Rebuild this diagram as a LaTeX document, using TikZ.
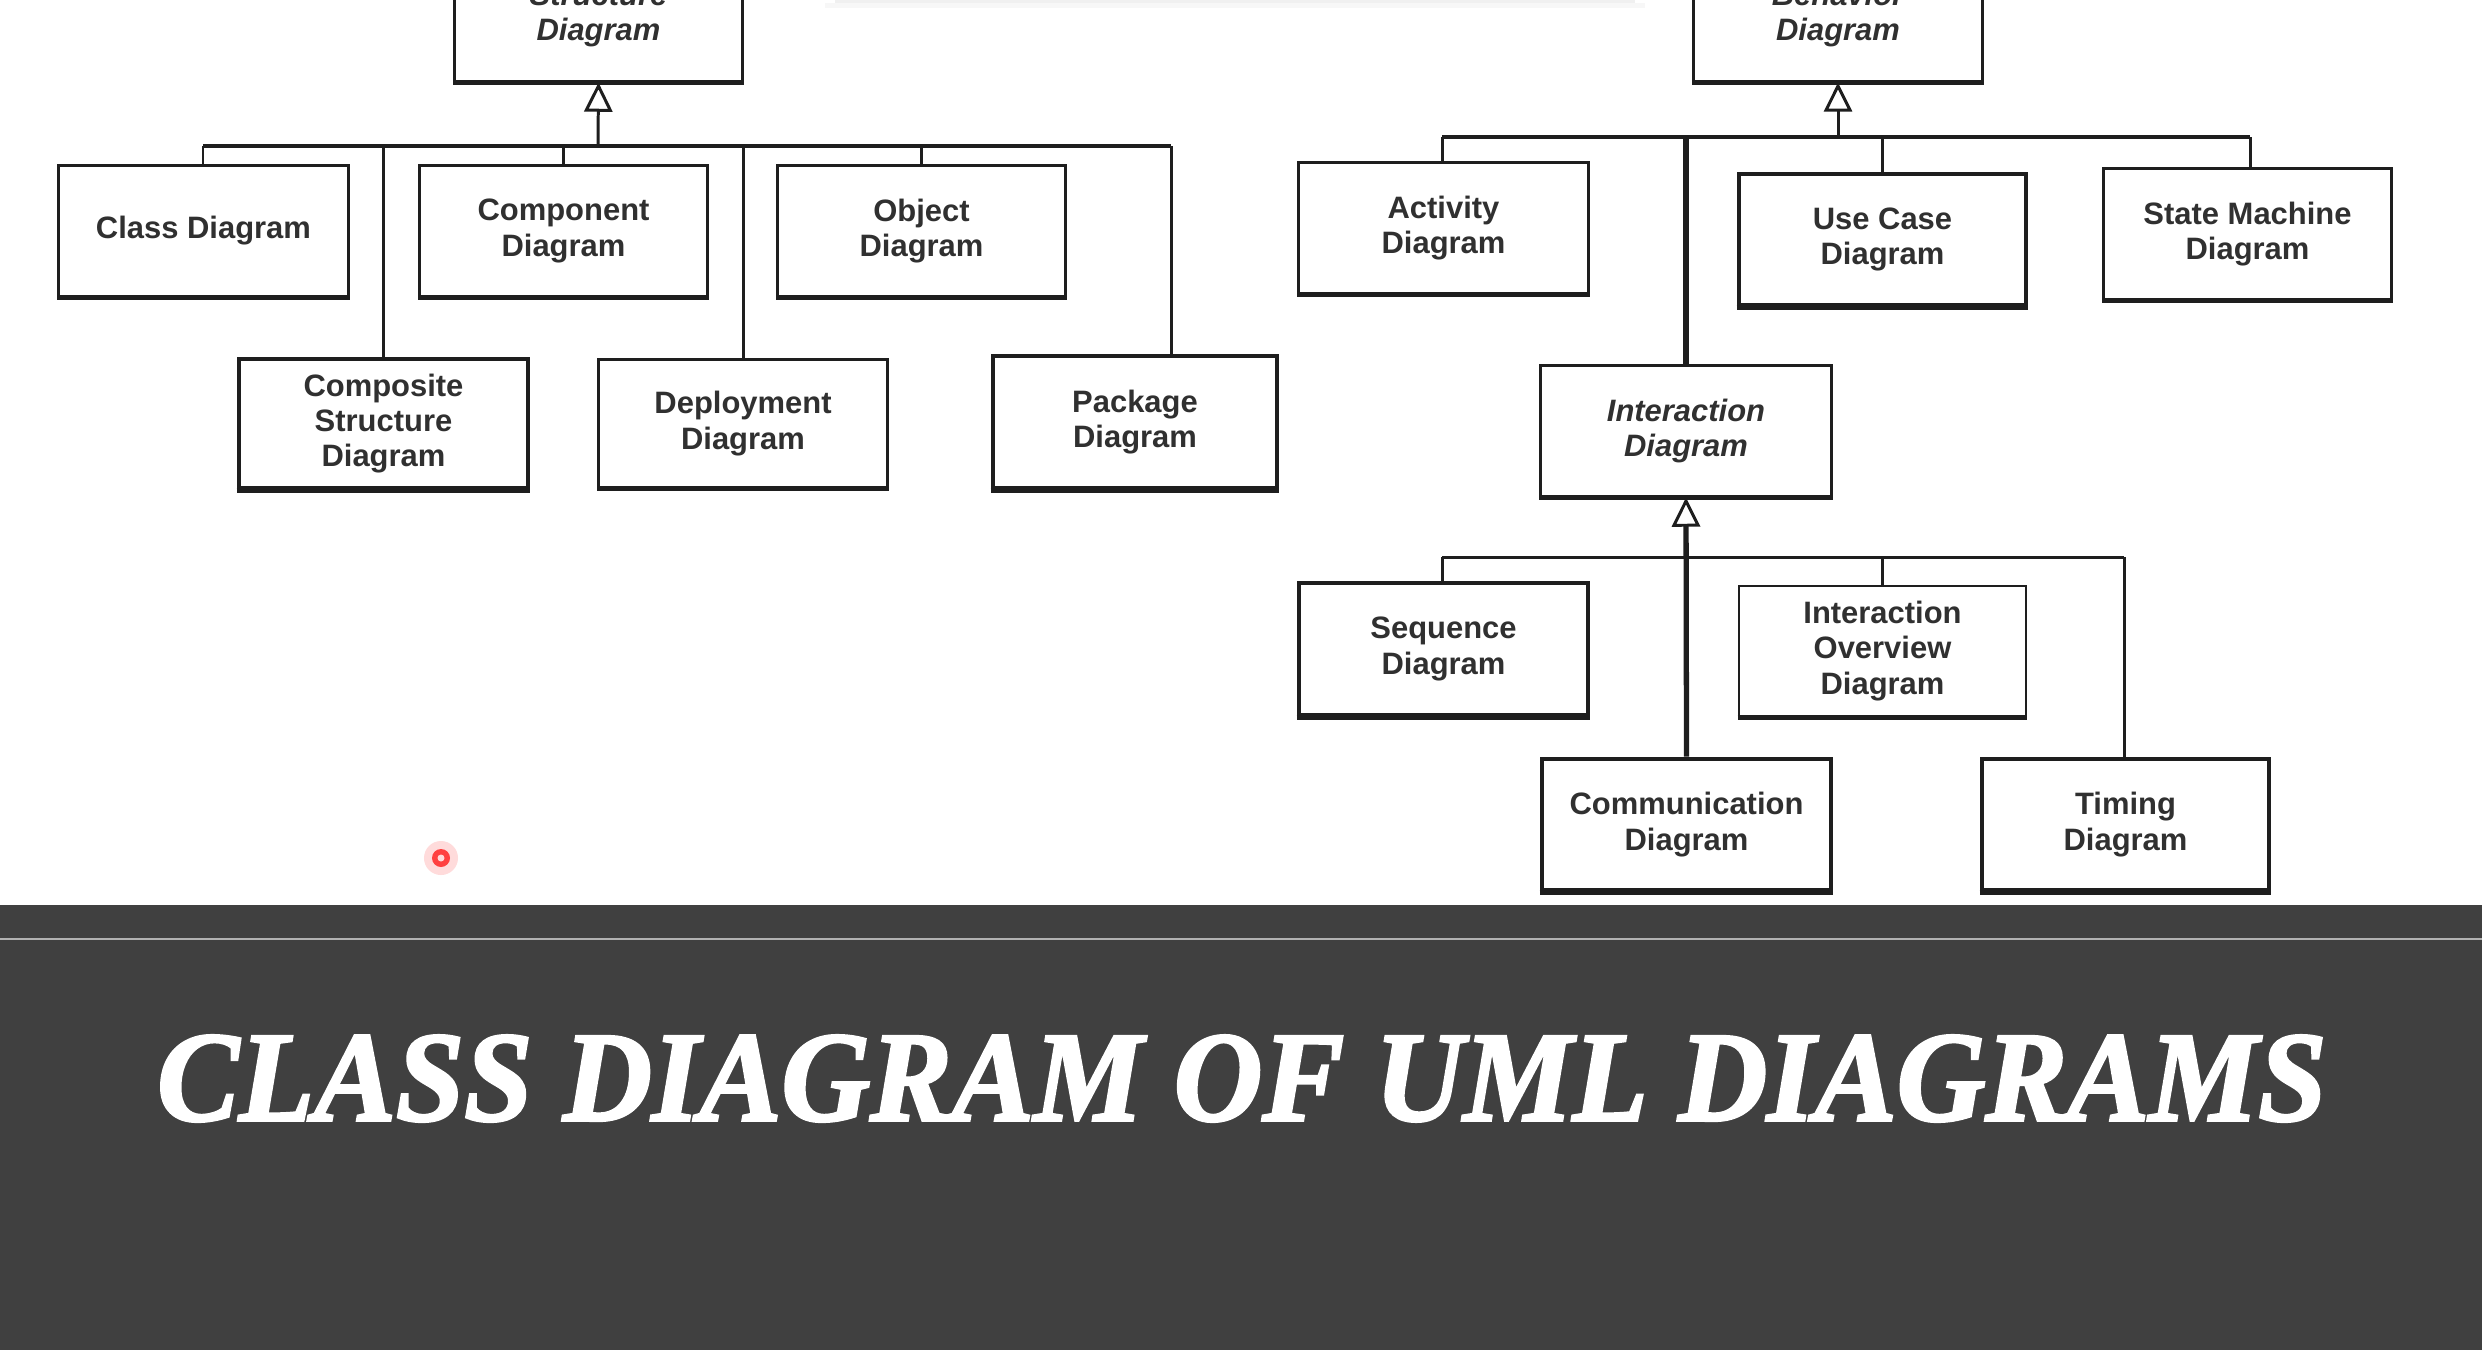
\documentclass[tikz,border=0pt]{standalone}
\usepackage{fontspec}
\usetikzlibrary{arrows.meta}
\newfontfamily\boxfont{Liberation Sans}
\newfontfamily\titlefont{Liberation Serif}[BoldItalicFeatures={FakeBold=2.2}]
\definecolor{band}{HTML}{404040}
\definecolor{ink}{HTML}{1E1E1E}
\definecolor{txt}{HTML}{303030}
\tikzset{
  ubox/.style={draw=ink, line width=0.85pt, fill=white, minimum width=2.88cm,
    minimum height=1.30cm, align=center, inner sep=0pt, text=txt,
    font=\boxfont\bfseries\fontsize{8.8}{10}\selectfont},
  thickbox/.style={ubox, line width=1.35pt},
  abox/.style={ubox, font=\boxfont\bfseries\itshape\fontsize{8.8}{10}\selectfont},
  conn/.style={draw=ink, line width=0.85pt},
  bar/.style={draw=ink, line width=1.15pt},
  heavy/.style={draw=ink, line width=1.5pt},
  gen/.style={-{Triangle[open, length=8.3pt, width=8pt, line width=0.85pt]}},
  botedge/.style={draw=ink, line width=1.3pt},
}
\begin{document}
\begin{tikzpicture}[x=0.01cm, y=-0.01cm]
\useasboundingbox (0,0) rectangle (2482,1350);
\fill[white] (0,0) rectangle (2482,905);
% faint shadow at top
\fill[black!6] (835,0) rectangle (1635,3);
\fill[black!3] (825,3) rectangle (1645,8);
% dark band
\fill[band] (0,905) rectangle (2482,1350);
\draw[black!30, line width=0.6pt] (0,939) -- (2482,939);

% ---------- Structure side ----------
\node[abox, minimum width=2.87cm, minimum height=1.32cm] (struct) at (598.5,15) {Structure\\Diagram};
\node[ubox, minimum width=2.89cm] (class) at (203.5,231) {Class Diagram};
\node[ubox, minimum width=2.87cm] (compo) at (563.5,231) {Component\\Diagram};
\node[ubox, minimum width=2.87cm] (object) at (921.5,231) {Object\\Diagram};
\node[thickbox, minimum width=2.89cm, minimum height=1.29cm] (compos) at (383.5,423.5) {Composite\\Structure\\Diagram};
\node[ubox, minimum width=2.88cm, minimum height=1.27cm] (deploy) at (743,423.5) {Deployment\\Diagram};
\node[thickbox, minimum width=2.84cm, minimum height=1.32cm] (pkg) at (1135,422) {Package\\Diagram};

\coordinate (sb) at (598,146);
\coordinate (sl) at (203,146);
\coordinate (sr) at (1171,146);
\draw[bar] (sl) -- (sr);
\draw[conn, gen] (sb) -- (struct.south);
\draw[conn] (sl) -- (sl |- class.north);
\draw[conn] (compos.north |- sl) -- (compos.north);
\draw[conn] (compo.north |- sl) -- (compo.north);
\draw[conn] (deploy.north |- sl) -- (deploy.north);
\draw[conn] (object.north |- sl) -- (object.north);
\draw[conn] (sr) -- (sr |- pkg.north);

% ---------- Behavior side ----------
\node[abox, minimum width=2.88cm, minimum height=1.32cm] (behav) at (1838,15) {Behavior\\Diagram};
\node[ubox, minimum width=2.89cm] (activity) at (1443.5,228) {Activity\\Diagram};
\node[thickbox, minimum width=2.87cm, minimum height=1.31cm] (usecase) at (1882.5,239.5) {Use Case\\Diagram};
\node[ubox, minimum width=2.87cm] (statem) at (2247.5,234) {State Machine\\Diagram};
\node[abox, minimum width=2.90cm] (inter) at (1686,431) {Interaction\\Diagram};

\coordinate (bb) at (1838,137);
\coordinate (bl) at (1442,137);
\coordinate (br) at (2250,137);
\draw[bar] (bl) -- (br);
\draw[conn, gen] (bb) -- (behav.south);
\draw[conn] (bl) -- (bl |- activity.north);
\draw[heavy] (inter.north |- bl) -- (inter.north);
\draw[conn] (usecase.north |- bl) -- (usecase.north);
\draw[conn] (br) -- (br |- statem.north);

% ---------- Interaction children ----------
\node[thickbox, minimum width=2.89cm, minimum height=1.32cm] (seq) at (1443.5,649) {Sequence\\Diagram};
\node[ubox, line width=0.7pt, minimum width=2.87cm] (overview) at (1882.5,651) {Interaction\\Overview\\Diagram};
\node[thickbox, minimum width=2.89cm, minimum height=1.31cm] (comm) at (1686.5,824.5) {Communication\\Diagram};
\node[thickbox, minimum width=2.87cm, minimum height=1.31cm] (timing) at (2125.5,824.5) {Timing\\Diagram};

\coordinate (il) at (1442,557);
\coordinate (ir) at (2124,557);
\draw[conn] (il) -- (ir);
\draw[heavy, gen] (comm.north) -- (inter.south);
\draw[conn] (il) -- (il |- seq.north);
\draw[conn] (overview.north |- il) -- (overview.north);
\draw[conn] (ir) -- (ir |- timing.north);

% heavier bottom edges
\foreach \n in {struct,class,compo,object,compos,deploy,pkg,behav,activity,usecase,statem,inter,seq,overview,comm,timing}
  \draw[botedge] (\n.south west) -- (\n.south east);

% cursor dot
\fill[red!20, opacity=0.7] (441,858) circle (0.17cm);
\fill[red!75] (441,858) circle (0.09cm);
\fill[white!85!red] (441,858) circle (0.035cm);

% title
\node[inner sep=0pt, text=white] (title) at (1242,1078.5)
  {\resizebox{21.68cm}{0.85cm}{\titlefont\bfseries\itshape CLASS DIAGRAM OF UML DIAGRAMS}};
\end{tikzpicture}
\end{document}
